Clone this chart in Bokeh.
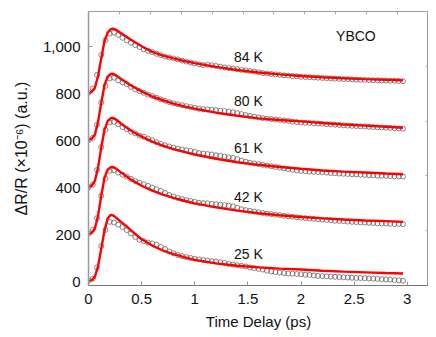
from bokeh.plotting import figure
from bokeh.models import (Range1d, LinearAxis, FixedTicker, NumeralTickFormatter, Label,
                          CustomJSTickFormatter)
from bokeh.embed import file_html
from bokeh.resources import INLINE

# Sample delays (ps)
delay = [0.00, 0.04, 0.08, 0.12, 0.16, 0.20, 0.24, 0.28, 0.32, 0.36,
         0.40, 0.44, 0.48, 0.52, 0.56, 0.60, 0.64, 0.68, 0.72, 0.76,
         0.80, 0.84, 0.88, 0.92, 0.96, 1.00, 1.04, 1.08, 1.12, 1.16,
         1.20, 1.24, 1.28, 1.32, 1.36, 1.40, 1.44, 1.48, 1.52, 1.56,
         1.60, 1.64, 1.68, 1.72, 1.76, 1.80, 1.84, 1.88, 1.92, 1.96,
         2.00, 2.04, 2.08, 2.12, 2.16, 2.20, 2.24, 2.28, 2.32, 2.36,
         2.40, 2.44, 2.48, 2.52, 2.56, 2.60, 2.64, 2.68, 2.72, 2.76,
         2.80, 2.84, 2.88, 2.92, 2.96]

temps = ["84 K", "80 K", "61 K", "42 K", "25 K"]
offsets = [800, 600, 400, 200, 0]

# Measured signal (above each curve's offset)
data_84K = [4, 22, 80, 165, 228, 256, 260, 250, 238, 227,
            217, 207, 199, 189, 182, 177, 170, 164, 158, 154,
            150, 146, 141, 137, 133, 129, 125, 122, 123, 121,
            118, 115, 112, 109, 107, 104, 101, 99, 97, 94,
            91, 88, 86, 84, 82, 80, 78, 77, 75, 74,
            72, 71, 70, 69, 68, 67, 66, 65, 64, 63,
            62, 62, 61, 60, 59, 59, 58, 57, 57, 56,
            56, 55, 55, 54, 53]
data_80K = [2, 12, 67, 162, 233, 265, 268, 257, 248, 240,
            229, 219, 211, 204, 196, 190, 183, 176, 170, 164,
            159, 155, 151, 147, 143, 140, 136, 134, 133, 132,
            130, 128, 126, 124, 121, 117, 113, 109, 105, 102,
            99, 96, 94, 92, 90, 88, 86, 84, 81, 79,
            77, 76, 75, 74, 73, 72, 70, 69, 68, 67,
            65, 64, 63, 62, 61, 60, 59, 58, 57, 56,
            55, 54, 53, 52, 51]
data_61K = [2, 12, 75, 172, 246, 277, 280, 270, 258, 249,
            238, 231, 221, 217, 209, 202, 193, 186, 180, 175,
            170, 166, 162, 159, 156, 152, 147, 145, 143, 141,
            138, 135, 132, 129, 126, 121, 115, 110, 106, 103,
            100, 97, 94, 91, 88, 85, 82, 79, 76, 73,
            71, 70, 68, 67, 66, 65, 64, 62, 61, 60,
            59, 58, 57, 56, 55, 54, 53, 52, 51, 50,
            50, 49, 48, 47, 47]
data_42K = [4, 20, 70, 165, 238, 271, 274, 264, 255, 247,
            237, 228, 221, 214, 207, 200, 193, 186, 177, 169,
            162, 156, 151, 147, 143, 139, 135, 134, 133, 131,
            129, 127, 125, 123, 120, 114, 108, 104, 101, 98,
            95, 92, 89, 87, 85, 83, 80, 78, 76, 74,
            72, 70, 68, 67, 65, 64, 62, 61, 59, 58,
            57, 55, 54, 53, 52, 51, 50, 49, 48, 47,
            47, 46, 45, 45, 44]
data_25K = [3, 12, 60, 150, 220, 254, 251, 242, 232, 219,
            205, 190, 178, 172, 166, 162, 157, 147, 138, 128,
            120, 113, 108, 104, 100, 97, 94, 91, 89, 87,
            85, 82, 79, 75, 72, 69, 67, 64, 60, 57,
            54, 51, 46, 43, 40, 38, 36, 34, 33, 32,
            31, 29, 28, 26, 24, 23, 22, 21, 20, 19,
            18, 17, 16, 15, 15, 14, 13, 12, 11, 10,
            9, 8, 6, 5, 3]

# Fit curves
fit_delay = [0, 0.03, 0.06, 0.09, 0.12, 0.15, 0.18, 0.21, 0.23, 0.26,
             0.30, 0.35, 0.40, 0.50, 0.60, 0.70, 0.80, 0.90, 1.0, 1.2,
             1.4, 1.6, 1.8, 2.0, 2.2, 2.4, 2.6, 2.8, 2.96]
fit_84K = [0, 8, 25, 75, 150, 222, 260, 275, 277, 272, 260, 245, 230, 202, 178,
           162, 150, 139, 130, 114, 101, 90, 82, 75, 70, 66, 62, 59, 57]
fit_80K = [0, 8, 25, 80, 160, 235, 272, 284, 285, 278, 265, 250, 235, 210, 188,
           172, 158, 146, 136, 119, 106, 95, 88, 82, 75, 69, 64, 59, 55]
fit_61K = [0, 8, 28, 85, 170, 245, 283, 296, 297, 290, 275, 258, 242, 217, 196,
           179, 164, 152, 141, 123, 108, 97, 88, 80, 73, 68, 64, 60, 57]
fit_42K = [0, 8, 26, 80, 165, 240, 276, 287, 288, 281, 267, 250, 234, 208, 187,
           170, 156, 144, 133, 116, 102, 91, 82, 75, 69, 64, 60, 57, 54]
fit_25K = [0, 6, 20, 65, 140, 215, 268, 284, 282, 272, 256, 238, 218, 180, 153,
           132, 117, 104, 92, 77, 67, 60, 55, 51, 46, 42, 39, 36, 34]

data_sets = [data_84K, data_80K, data_61K, data_42K, data_25K]
fit_sets = [fit_84K, fit_80K, fit_61K, fit_42K, fit_25K]

# Label placement (data units)
label_x = [1.37, 1.37, 1.37, 1.37, 1.37]
label_y = [956, 769, 570, 360, 119]

x_ticks = [0, 0.5, 1, 1.5, 2, 2.5, 3]
y_ticks = [0, 200, 400, 600, 800, 1000]

FONT = "Liberation Sans"

p = figure(frame_width=340, frame_height=274,
           x_range=Range1d(0, 3.2), y_range=Range1d(-17, 1150),
           output_backend="svg", toolbar_location=None,
           min_border_left=88, min_border_right=0,
           min_border_top=11, min_border_bottom=44)
p.xgrid.grid_line_color = None
p.ygrid.grid_line_color = None
p.outline_line_color = "#9a9a9a"
p.outline_line_width = 1
p.background_fill_color = "white"
p.border_fill_color = "white"

for d, off in zip(data_sets, offsets):
    p.scatter(delay, [off + v for v in d], marker="circle", size=5,
              fill_color=None, line_color="#555555", line_width=0.7)
for f, off in zip(fit_sets, offsets):
    p.line(fit_delay, [off + v for v in f], line_color="#ff0000", line_width=2.4)

for name, lx, ly in zip(temps, label_x, label_y):
    p.add_layout(Label(x=lx, y=ly, text=name, text_font=FONT, text_font_size="14px",
                       text_baseline="middle", text_color="#111111"))
p.add_layout(Label(x=2.33, y=1045, text="YBCO", text_font=FONT, text_font_size="14px",
                   text_baseline="middle", text_color="#111111"))

xa = p.xaxis[0]
xa.ticker = FixedTicker(ticks=x_ticks)
xa.formatter = NumeralTickFormatter(format="0.[0]")
xa.axis_label = "Time Delay (ps)"
ya = p.yaxis[0]
ya.ticker = FixedTicker(ticks=y_ticks)
ya.formatter = NumeralTickFormatter(format="0,0")
ya.axis_label = "ΔR/R (×10⁻⁶) (a.u.)"

for ax in (xa, ya):
    ax.major_tick_in = 4
    ax.major_tick_out = 0
    ax.minor_tick_in = 0
    ax.minor_tick_out = 0
    ax.major_tick_line_color = "#999999"
    ax.major_label_text_font = FONT
    ax.major_label_text_font_size = "15px"
    ax.major_label_text_color = "#111111"
    ax.axis_label_text_font = FONT
    ax.axis_label_text_font_style = "normal"
    ax.axis_label_text_color = "#111111"
xa.axis_label_text_font_size = "15px"
ya.axis_label_text_font_size = "16px"
xa.axis_line_color = "#777777"
xa.major_label_standoff = 8
xa.axis_label_standoff = 6
ya.axis_line_color = "#999999"
ya.axis_line_width = 1.5
ya.major_label_standoff = 8
ya.axis_label_standoff = 10

# Mirrored tick marks on top and right frame edges (no labels)
p.extra_x_ranges = {"top": Range1d(0, 11)}
p.extra_y_ranges = {"right": Range1d(0, 5)}
blank = CustomJSTickFormatter(code="return ''")
top = LinearAxis(x_range_name="top", ticker=FixedTicker(ticks=list(range(1, 11))),
                 formatter=blank)
right = LinearAxis(y_range_name="right", ticker=FixedTicker(ticks=[1, 2, 3, 4]),
                   formatter=blank)
for ax in (top, right):
    ax.major_tick_in = 3
    ax.major_tick_out = 0
    ax.minor_tick_in = 0
    ax.minor_tick_out = 0
    ax.major_tick_line_color = "#aaaaaa"
    ax.axis_line_color = None
    ax.major_label_standoff = 0
p.add_layout(top, "above")
p.add_layout(right, "right")

open("out.html", "w").write(file_html(p, INLINE))
